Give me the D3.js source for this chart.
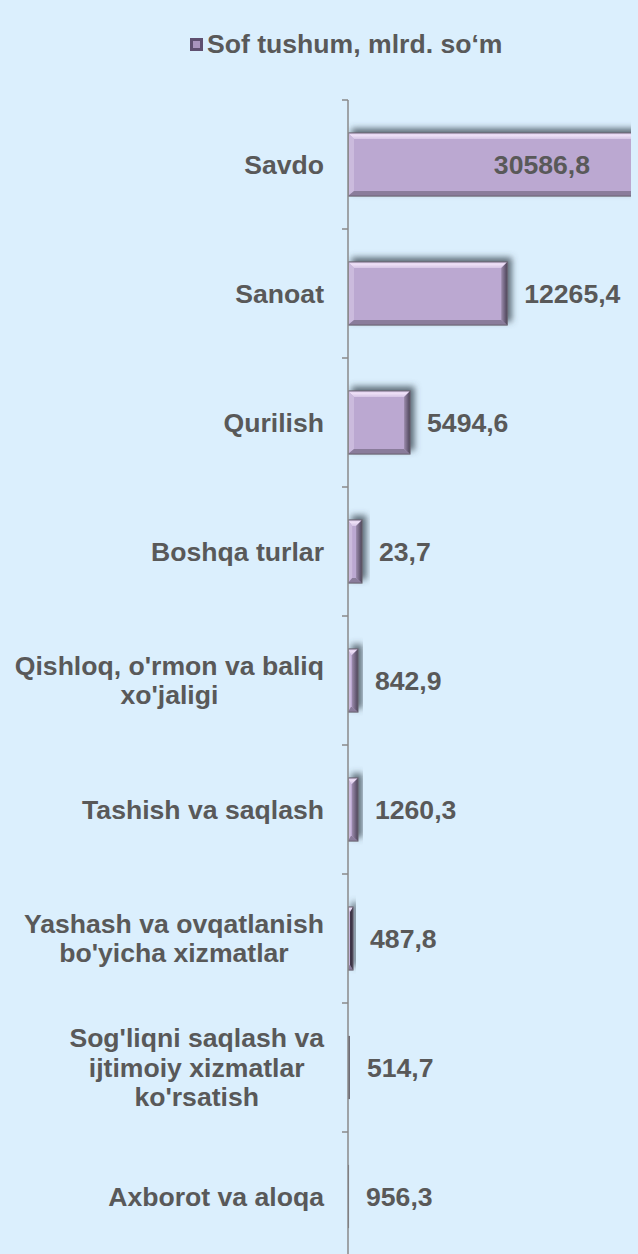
<!DOCTYPE html>
<html><head><meta charset="utf-8">
<script src="https://cdn.jsdelivr.net/npm/d3@7"></script>
<style>html,body{margin:0;padding:0;background:#dbeffd;} svg{display:block}</style>
</head><body><svg id="c" width="638" height="1254"></svg>
<script>
const categories = [
  "Savdo",
  "Sanoat",
  "Qurilish",
  "Boshqa turlar",
  "Qishloq, o'rmon va baliq\nxo'jaligi",
  "Tashish va saqlash",
  "Yashash va ovqatlanish\nbo'yicha xizmatlar",
  "Sog'liqni saqlash va\nijtimoiy xizmatlar\nko'rsatish",
  "Axborot va aloqa"
];
const values = [30586.8, 12265.4, 5494.6, 23.7, 842.9, 1260.3, 487.8, 514.7, 956.3];
// bar lengths as drawn in the picture (they do not follow the printed values)
const barLengths = [30586.8, 12265.4, 4780, 1080, 770, 770, 390, 150, 80];
const legendLabel = "Sof tushum, mlrd. so\u2018m";

const fmt = v => d3.format(".1f")(v).replace(".", ",");
const W = 638, H = 1254;
const svg = d3.select("#c");
const TEXT = "#595959";
const FONT = "'Liberation Sans', Arial, sans-serif";
const FS = 26.6;

svg.append("rect").attr("width", W).attr("height", H).attr("fill", "#dbeffd");

const defs = svg.append("defs");
const f = defs.append("filter").attr("id", "sh").attr("x", "-50%").attr("y", "-50%").attr("width", "200%").attr("height", "200%");
f.append("feGaussianBlur").attr("in", "SourceAlpha").attr("stdDeviation", 3).attr("result", "b");
f.append("feOffset").attr("in", "b").attr("dx", 4).attr("dy", -4).attr("result", "o");
f.append("feFlood").attr("flood-color", "#3f4c57").attr("flood-opacity", 0.8);
f.append("feComposite").attr("in2", "o").attr("operator", "in").attr("result", "s");
const m = f.append("feMerge");
m.append("feMergeNode").attr("in", "s");
m.append("feMergeNode").attr("in", "SourceGraphic");

const gTop = defs.append("linearGradient").attr("id", "gTop").attr("x1", 0).attr("y1", 0).attr("x2", 0).attr("y2", 1);
gTop.append("stop").attr("offset", 0).attr("stop-color", "#cdbbe0");
gTop.append("stop").attr("offset", 0.35).attr("stop-color", "#f0e2f8");
gTop.append("stop").attr("offset", 1).attr("stop-color", "#d6c6e6");
const gRight = defs.append("linearGradient").attr("id", "gRight").attr("x1", 0).attr("y1", 0).attr("x2", 1).attr("y2", 0);
gRight.append("stop").attr("offset", 0).attr("stop-color", "#9c8cad");
gRight.append("stop").attr("offset", 1).attr("stop-color", "#4c4358");

const x0 = 348, xEnd = 631;
const x = d3.scaleLinear().domain([0, 21800]).range([x0, xEnd]);
const y = d3.scaleBand().domain(categories).range([100, 1261]).paddingInner(0.51).paddingOuter(0.255);

defs.append("clipPath").attr("id", "plot").append("rect")
  .attr("x", x0).attr("y", 0).attr("width", xEnd - x0).attr("height", H);

// legend
const lg = svg.append("g");
lg.append("rect").attr("x", 190).attr("y", 38).attr("width", 13).attr("height", 13).attr("fill", "#5f5070");
lg.append("rect").attr("x", 193).attr("y", 41).attr("width", 7).attr("height", 7).attr("fill", "#a995bd");
lg.append("text").attr("x", 207).attr("y", 53).text(legendLabel)
  .attr("font-family", FONT).attr("font-weight", "bold").attr("font-size", FS).attr("fill", TEXT);

// bars
const bars = svg.append("g").attr("clip-path", "url(#plot)");
categories.forEach((c, i) => {
  const xa = x(0), xb = x(barLengths[i]);
  const ya = y(c), yb = ya + y.bandwidth();
  const w = xb - xa;
  const g = bars.append("g").attr("filter", "url(#sh)");
  const bl = Math.min(6, w * 0.3), br = Math.min(6, w * 0.6), bt = Math.min(6, w), bb = 5;
  g.append("rect").attr("x", xa).attr("y", ya).attr("width", w).attr("height", yb - ya).attr("fill", w < 3 ? "#6a6670" : "#bba8d1");
  if (w >= 3) {
    const P = pts => pts.map(p => p.join(",")).join(" ");
    g.append("polygon").attr("points", P([[xa, ya], [xb, ya], [xb - br, ya + bt], [xa + bl, ya + bt]])).attr("fill", "url(#gTop)");
    g.append("polygon").attr("points", P([[xa, ya], [xa + bl, ya + bt], [xa + bl, yb - bb], [xa, yb]])).attr("fill", "#cbbbdd");
    g.append("polygon").attr("points", P([[xa, yb], [xb, yb], [xb - br, yb - bb], [xa + bl, yb - bb]])).attr("fill", "#8a7b9b");
    g.append("polygon").attr("points", P([[xb, ya], [xb, yb], [xb - br, yb - bb], [xb - br, ya + bt]])).attr("fill", w < 7 ? "#3c3446" : "url(#gRight)");
    g.append("rect").attr("x", xa).attr("y", ya).attr("width", w).attr("height", yb - ya)
      .attr("fill", "none").attr("stroke", "#66606e").attr("stroke-width", 1);
  }
});

// axis
const ax = svg.append("g").attr("stroke", "#8a8a8a").attr("stroke-width", 1.5);
ax.append("line").attr("x1", x0).attr("x2", x0).attr("y1", 100).attr("y2", H);
d3.range(categories.length + 1).forEach(k => {
  const ty = 100 + k * y.step();
  ax.append("line").attr("x1", x0 - 6).attr("x2", x0).attr("y1", ty).attr("y2", ty);
});

// category labels
const lab = svg.append("g").attr("font-family", FONT).attr("font-weight", "bold").attr("font-size", FS).attr("fill", TEXT);
const LH = 29.5;
categories.forEach(c => {
  const lines = c.split("\n");
  const cy = y(c) + y.bandwidth() / 2;
  const t = lab.append("text");
  const tsp = lines.map((l, j) => t.append("tspan").attr("y", cy + 9 - (lines.length - 1) * LH / 2 + j * LH).text(l));
  const widths = tsp.map(s => s.node().getComputedTextLength());
  const mw = d3.max(widths);
  const cx = 324 - mw / 2;
  tsp.forEach(s => s.attr("x", cx).attr("text-anchor", "middle"));
});

// value labels
const vl = svg.append("g").attr("font-family", FONT).attr("font-weight", "bold").attr("font-size", FS).attr("fill", TEXT);
categories.forEach((c, i) => {
  const cy = y(c) + y.bandwidth() / 2 + 9.5;
  const xb = x(barLengths[i]);
  if (xb > xEnd) {
    vl.append("text").attr("x", xEnd - 41).attr("y", cy).attr("text-anchor", "end").text(fmt(values[i]));
  } else {
    vl.append("text").attr("x", Math.max(xb, x0 + 1) + 17).attr("y", cy).text(fmt(values[i]));
  }
});
</script>
</body></html>
